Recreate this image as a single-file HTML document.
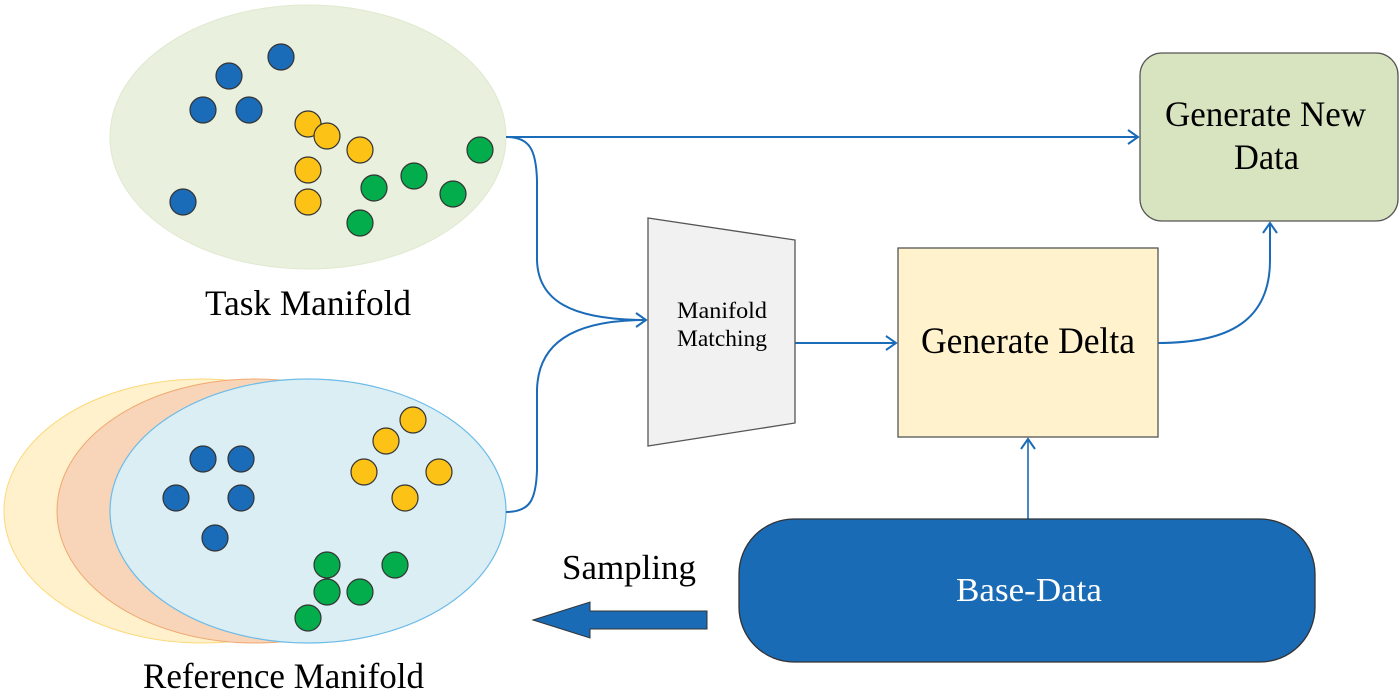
<!DOCTYPE html>
<html><head><meta charset="utf-8"><style>html,body{margin:0;padding:0;background:#fff;}svg{display:block;}</style></head>
<body>
<svg width="1400" height="695" viewBox="0 0 1400 695" xmlns="http://www.w3.org/2000/svg" font-family="'Liberation Serif', serif">
<defs>
<marker id="ah" markerWidth="14" markerHeight="16" refX="12" refY="8" orient="auto" markerUnits="userSpaceOnUse">
<path d="M2,1 L12,8 L2,15" fill="none" stroke="#1a6bb8" stroke-width="2"/>
</marker>
</defs>
<ellipse cx="308" cy="137" rx="198" ry="132" fill="#e9f0de" stroke="#dfe9cf" stroke-width="1"/>
<g stroke="#333" stroke-width="1.2">
<g fill="#1a6bb8">
<ellipse cx="281" cy="57" rx="13" ry="13"/><ellipse cx="229" cy="76" rx="13" ry="13"/><ellipse cx="203" cy="110" rx="13" ry="13"/><ellipse cx="249" cy="110" rx="13" ry="13"/><ellipse cx="183" cy="202" rx="13" ry="13"/>
</g>
<g fill="#fcc216">
<ellipse cx="308" cy="124" rx="13" ry="13"/><ellipse cx="327" cy="136" rx="13" ry="13"/><ellipse cx="360" cy="150" rx="13" ry="13"/><ellipse cx="308" cy="170" rx="13" ry="13"/><ellipse cx="308" cy="202" rx="13" ry="13"/>
</g>
<g fill="#03ad4b">
<ellipse cx="480" cy="150" rx="13" ry="13"/><ellipse cx="414" cy="176" rx="13" ry="13"/><ellipse cx="374" cy="188" rx="13" ry="13"/><ellipse cx="453" cy="194" rx="13" ry="13"/><ellipse cx="360" cy="223" rx="13" ry="13"/>
</g>
</g>
<text x="205" y="315" font-size="36" textLength="206" lengthAdjust="spacingAndGlyphs">Task Manifold</text>
<ellipse cx="202" cy="511" rx="198" ry="132" fill="#fff1cc" stroke="#fcd97a" stroke-width="1"/>
<ellipse cx="255" cy="511" rx="198" ry="132" fill="#f8d5b8" stroke="#f0a870" stroke-width="1"/>
<ellipse cx="308" cy="511" rx="198" ry="132" fill="#dbeef4" stroke="#6cbbe8" stroke-width="1.2"/>
<g stroke="#333" stroke-width="1.2">
<g fill="#1a6bb8">
<ellipse cx="203" cy="459" rx="13" ry="13"/><ellipse cx="241" cy="459" rx="13" ry="13"/><ellipse cx="176" cy="498" rx="13" ry="13"/><ellipse cx="241" cy="498" rx="13" ry="13"/><ellipse cx="215" cy="538" rx="13" ry="13"/>
</g>
<g fill="#fcc216">
<ellipse cx="413" cy="420" rx="13" ry="13"/><ellipse cx="386" cy="441" rx="13" ry="13"/><ellipse cx="364" cy="472" rx="13" ry="13"/><ellipse cx="439" cy="472" rx="13" ry="13"/><ellipse cx="405" cy="498" rx="13" ry="13"/>
</g>
<g fill="#03ad4b">
<ellipse cx="327" cy="565" rx="13" ry="13"/><ellipse cx="395" cy="565" rx="13" ry="13"/><ellipse cx="327" cy="592" rx="13" ry="13"/><ellipse cx="360" cy="592" rx="13" ry="13"/><ellipse cx="308" cy="618" rx="13" ry="13"/>
</g>
</g>
<text x="143" y="688" font-size="36" textLength="281" lengthAdjust="spacingAndGlyphs">Reference Manifold</text>
<g fill="none" stroke="#1a6bb8" stroke-width="2">
<path d="M506,137 L1138,137" marker-end="url(#ah)"/>
<path d="M506,137 C530,137 536,150 537,180 L537,260 C538,300 570,320 646,320" marker-end="url(#ah)"/>
<path d="M506,512 C530,512 536,500 537,470 L537,390 C538,345 570,320 646,320"/>
<path d="M795,343 L896,343" marker-end="url(#ah)"/>
<path d="M1158,343 C1230,343 1270,320 1270,260 L1270,223" marker-end="url(#ah)"/>
<path d="M1028,519 L1028,439" marker-end="url(#ah)" stroke-width="1.6"/>
</g>
<rect x="1140" y="53" width="258" height="168" rx="22" fill="#d8e4bf" stroke="#555" stroke-width="1.3"/>
<text x="1165" y="126" font-size="36" textLength="201" lengthAdjust="spacingAndGlyphs">Generate New</text>
<text x="1234" y="169" font-size="36" textLength="65" lengthAdjust="spacingAndGlyphs">Data</text>
<polygon points="648,218 795,240 795,423 648,446" fill="#f1f1f1" stroke="#555" stroke-width="1.3"/>
<text x="677" y="318" font-size="23" textLength="90" lengthAdjust="spacingAndGlyphs">Manifold</text>
<text x="677" y="346" font-size="23" textLength="90" lengthAdjust="spacingAndGlyphs">Matching</text>
<rect x="898" y="248" width="260" height="189" fill="#fff2cc" stroke="#555" stroke-width="1.3"/>
<text x="921" y="353" font-size="37" textLength="214" lengthAdjust="spacingAndGlyphs">Generate Delta</text>
<rect x="739" y="519" width="576" height="143" rx="55" fill="#1a6bb5" stroke="#333" stroke-width="1.3"/>
<text x="956" y="601" font-size="34" fill="#fff" textLength="146" lengthAdjust="spacingAndGlyphs">Base-Data</text>
<text x="562" y="579" font-size="35" textLength="134" lengthAdjust="spacingAndGlyphs">Sampling</text>
<polygon points="533,620 590,602 590,611 707,611 707,629 590,629 590,638" fill="#1a6bb5" stroke="#333" stroke-width="1"/>
</svg>
</body></html>
